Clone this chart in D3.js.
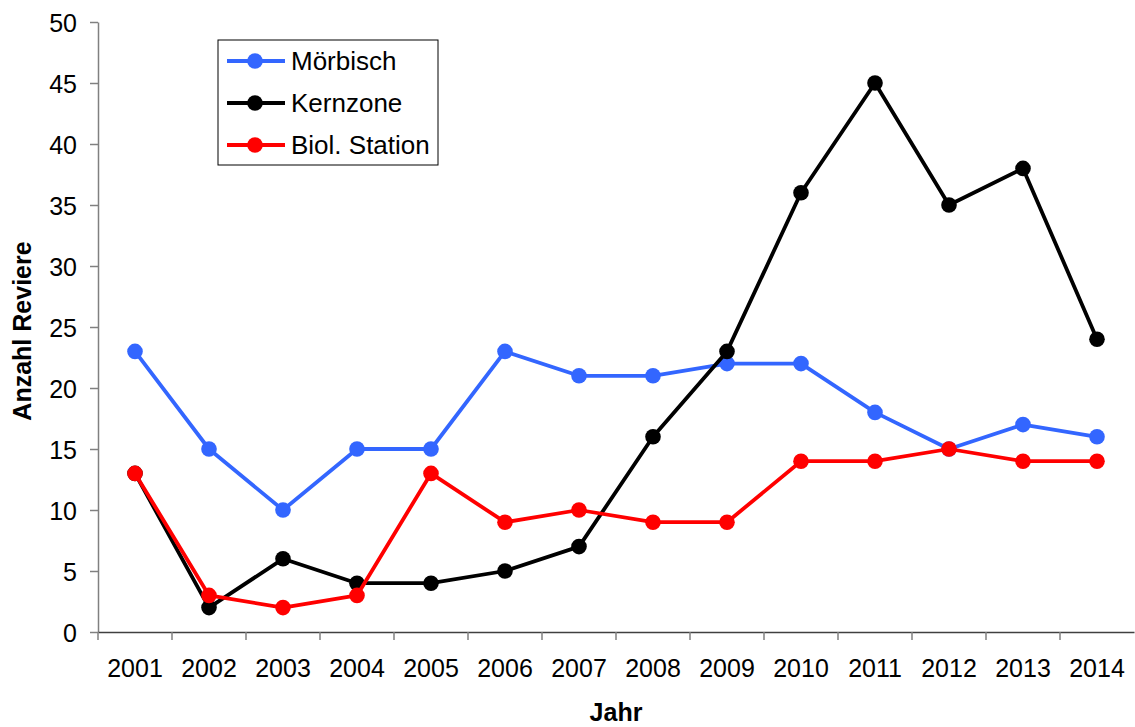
<!DOCTYPE html>
<html><head><meta charset="utf-8">
<script src="https://cdn.jsdelivr.net/npm/d3@7"></script>
<style>body{margin:0;background:#fff;}text{font-family:"Liberation Sans",Arial,sans-serif;}</style>
</head><body>
<svg id="c" width="1135" height="727"></svg>
<script>
const years = ["2001","2002","2003","2004","2005","2006","2007","2008","2009","2010","2011","2012","2013","2014"];
const moerbisch = [23,15,10,15,15,23,21,21,22,22,18,15,17,16];
const kernzone = [13,2,6,4,4,5,7,16,23,36,45,35,38,24];
const biolStation = [13,3,2,3,13,9,10,9,9,14,14,15,14,14];
const seriesNames = ["Mörbisch","Kernzone","Biol. Station"];
const seriesColors = ["#3366FF","#000000","#FF0000"];
const yTicks = [0,5,10,15,20,25,30,35,40,45,50];

const series = [moerbisch, kernzone, biolStation].map((v,i)=>({name:seriesNames[i], color:seriesColors[i], values:v}));

const svg = d3.select("#c");
const x = d3.scaleBand().domain(years).range([98,1134]);
const y = d3.scaleLinear().domain([0,50]).range([632,22]);

// y axis
const ya = svg.append("g").attr("transform","translate(98,0)")
  .call(d3.axisLeft(y).tickValues(yTicks).tickSize(8).tickSizeOuter(0));
ya.select(".domain").attr("stroke","#808080").attr("stroke-width",1.5);
ya.selectAll(".tick line").attr("stroke","#808080").attr("stroke-width",1.5);
ya.selectAll(".tick text").attr("font-size",25).attr("fill","#000").attr("x",-21).attr("dy","0.36em").style("font-family","Liberation Sans, Arial");

// x axis
const xa = svg.append("g").attr("transform","translate(0,632)")
  .call(d3.axisBottom(x).tickSize(0).tickSizeOuter(0));
xa.select(".domain").attr("stroke","#404040").attr("stroke-width",1.5);
xa.selectAll(".tick text").attr("font-size",25).attr("fill","#000").attr("y",45).attr("dy","0").style("font-family","Liberation Sans, Arial");
// tick marks at category boundaries
const bounds = years.map(d=>x(d));
xa.selectAll(".bt").data(bounds).enter().append("line")
  .attr("x1",d=>d).attr("x2",d=>d).attr("y1",0).attr("y2",8)
  .attr("stroke","#808080").attr("stroke-width",1.5);

// axis titles
svg.append("text").attr("x",616).attr("y",721).attr("text-anchor","middle")
  .attr("font-size",25).attr("font-weight","bold").text("Jahr");
svg.append("text").attr("transform","translate(31,331) rotate(-90)").attr("text-anchor","middle")
  .attr("font-size",25).attr("font-weight","bold").text("Anzahl Reviere");

const cx = d => x(d) + x.bandwidth()/2;
const line = d3.line().x((d,i)=>cx(years[i])).y(d=>y(d));

const g = svg.append("g");
series.forEach(s=>{
  g.append("path").datum(s.values).attr("d",line).attr("fill","none")
    .attr("stroke",s.color).attr("stroke-width",3.8).attr("stroke-linejoin","round");
  g.selectAll(null).data(s.values).enter().append("circle")
    .attr("cx",(d,i)=>cx(years[i])).attr("cy",d=>y(d)).attr("r",7.8).attr("fill",s.color);
});

// legend
const lg = svg.append("g");
lg.append("rect").attr("x",218).attr("y",40).attr("width",220).attr("height",125)
  .attr("fill","#fff").attr("stroke","#000").attr("stroke-width",1);
series.forEach((s,i)=>{
  const yy = 61 + i*42;
  lg.append("line").attr("x1",227).attr("x2",285).attr("y1",yy).attr("y2",yy)
    .attr("stroke",s.color).attr("stroke-width",3.8);
  lg.append("circle").attr("cx",255).attr("cy",yy).attr("r",7.8).attr("fill",s.color);
  lg.append("text").attr("x",291).attr("y",yy).attr("dy","0.36em").attr("font-size",26)
    .text(s.name);
});
</script>
</body></html>
